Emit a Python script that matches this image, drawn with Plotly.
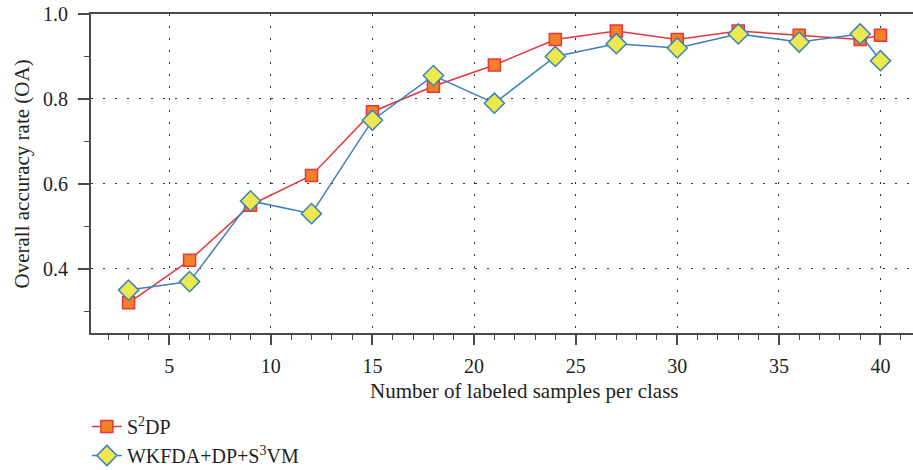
import plotly.graph_objects as go

# samples per class
x_vals = [3, 6, 9, 12, 15, 18, 21, 24, 27, 30, 33, 36, 39, 40]

# overall accuracy (OA)
s2dp = [0.32, 0.42, 0.55, 0.62, 0.77, 0.83, 0.88, 0.94, 0.96, 0.94, 0.96, 0.95, 0.94, 0.95]
wkfda = [0.35, 0.37, 0.56, 0.53, 0.75, 0.855, 0.79, 0.90, 0.93, 0.92, 0.953, 0.934, 0.953, 0.89]

x_ticks = [5, 10, 15, 20, 25, 30, 35, 40]
y_ticks = [0.4, 0.6, 0.8, 1.0]

FONT = "Liberation Serif"
AXIS_COLOR = "#4a4a4a"
TEXT_COLOR = "#231f20"

fig = go.Figure()

# S2DP (red line, orange squares)
fig.add_trace(
    go.Scatter(
        x=x_vals,
        y=s2dp,
        mode="lines+markers",
        name="S<sup>2</sup>DP",
        line=dict(color="#e8363c", width=1.5),
        marker=dict(symbol="square", size=12, color="#f58025",
                    line=dict(color="#e8363c", width=1.5)),
    )
)

# WKFDA+DP+S3VM (blue line, yellow diamonds)
fig.add_trace(
    go.Scatter(
        x=x_vals,
        y=wkfda,
        mode="lines+markers",
        name="WKFDA+DP+S<sup>3</sup>VM",
        line=dict(color="#3d7fbf", width=1.5),
        marker=dict(symbol="diamond", size=15.5, color="#ece94e",
                    line=dict(color="#3d7fbf", width=1.5)),
    )
)

fig.update_layout(
    width=913,
    height=470,
    margin=dict(l=91, r=0, t=14, b=137, autoexpand=False),
    plot_bgcolor="white",
    paper_bgcolor="white",
    font=dict(family=FONT, size=20, color=TEXT_COLOR),
    showlegend=True,
    legend=dict(
        orientation="v",
        x=-0.005,
        xanchor="left",
        y=-0.232,
        yanchor="top",
        itemwidth=30,
        tracegroupgap=0,
        font=dict(family=FONT, size=20, color=TEXT_COLOR),
        bgcolor="rgba(0,0,0,0)",
    ),
    xaxis=dict(
        range=[1.15, 41.6],
        tickvals=x_ticks,
        ticks="outside",
        ticklen=10,
        tickwidth=1.5,
        tickcolor=AXIS_COLOR,
        ticklabelstandoff=4,
        showline=True,
        linecolor=AXIS_COLOR,
        linewidth=2,
        mirror=True,
        showgrid=True,
        gridcolor="#333",
        gridwidth=1,
        griddash="2px,10px",
        zeroline=False,
        automargin=False,
        minor=dict(dtick=1, tick0=0, ticks="outside", ticklen=5,
                   tickwidth=1.2, tickcolor=AXIS_COLOR, showgrid=False),
        tickfont=dict(family=FONT, size=20, color=TEXT_COLOR),
    ),
    yaxis=dict(
        range=[0.249, 1.0],
        tickvals=y_ticks,
        tickformat=".1f",
        ticks="outside",
        ticklen=11,
        tickwidth=1.5,
        tickcolor=AXIS_COLOR,
        ticklabelstandoff=6,
        showline=True,
        linecolor=AXIS_COLOR,
        linewidth=2,
        showgrid=True,
        gridcolor="#333",
        gridwidth=1,
        griddash="2px,10px",
        zeroline=False,
        automargin=False,
        minor=dict(tickvals=[0.3, 0.5, 0.7, 0.9], ticks="outside", ticklen=5,
                   tickwidth=1.2, tickcolor=AXIS_COLOR, showgrid=False),
        tickfont=dict(family=FONT, size=20, color=TEXT_COLOR),
    ),
    annotations=[
        dict(
            text="Number of labeled samples per class",
            x=0.527, xref="paper",
            y=-0.183, yref="paper",
            xanchor="center", yanchor="middle",
            showarrow=False,
            font=dict(family=FONT, size=21, color=TEXT_COLOR),
        ),
        dict(
            text="Overall accuracy rate (OA)",
            x=-0.084, xref="paper",
            y=0.5, yref="paper",
            xanchor="center", yanchor="middle",
            textangle=-90,
            showarrow=False,
            font=dict(family=FONT, size=21, color=TEXT_COLOR),
        ),
    ],
)

# drop the default body margin so the figure sits at the window's corner
fig.write_html(
    "out.html",
    config={"displayModeBar": False},
    post_script="document.body.style.margin='0';document.body.style.overflow='hidden';",
)
